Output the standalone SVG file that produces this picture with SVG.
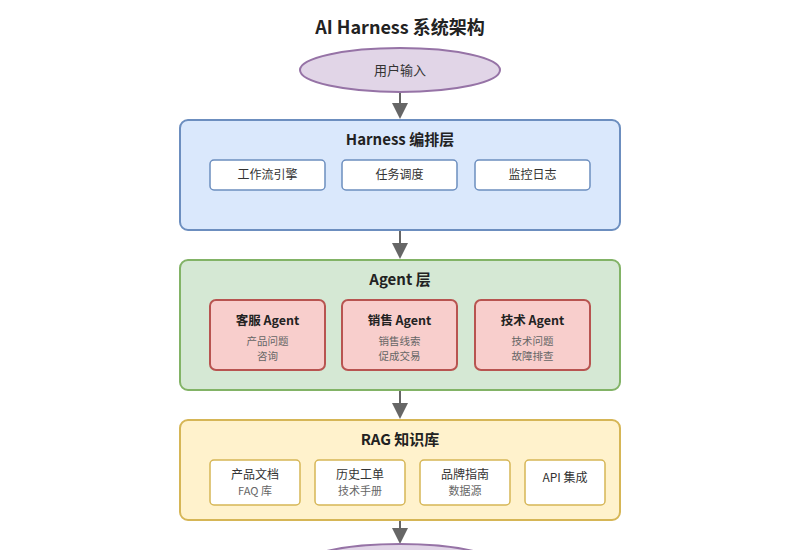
<svg xmlns="http://www.w3.org/2000/svg" width="800" height="550" viewBox="0 0 800 550">
<defs>
<marker id="arr" markerWidth="8" markerHeight="8" refX="7" refY="4" orient="auto" markerUnits="strokeWidth">
<path d="M0,0 L8,4 L0,8 Z" fill="#666"/>
</marker>
<style>
text{font-family:"Noto Sans CJK SC","Noto Sans",sans-serif;text-anchor:middle;fill:#333}
.title{font-size:18px;font-weight:bold;fill:#222}
.lt{font-size:15px;font-weight:bold;fill:#222}
.st{font-size:12px;fill:#333}
.at{font-size:12.5px;font-weight:bold;fill:#222}
.g{font-size:10.5px;fill:#666}
.g2{font-size:11px;fill:#666}
.sub{fill:#fff;stroke-width:1.5}
.conn{stroke:#666;stroke-width:2;fill:none;marker-end:url(#arr)}
</style>
</defs>
<rect width="800" height="550" fill="#fff"/>
<text class="title" x="400" y="34">AI Harness 系统架构</text>
<g id="connectors">
<line class="conn" x1="400" y1="92" x2="400" y2="117"/>
<line class="conn" x1="400" y1="230" x2="400" y2="257"/>
<line class="conn" x1="400" y1="390" x2="400" y2="417"/>
<line class="conn" x1="400" y1="520" x2="400" y2="542"/>
</g>
<g id="input">
<ellipse cx="400" cy="70" rx="100" ry="22" fill="#e1d5e7" stroke="#9673a6" stroke-width="2"/>
<text class="st" x="400" y="75" style="font-size:13px">用户输入</text>
</g>
<g id="harness">
<rect x="180" y="120" width="440" height="110" rx="8" fill="#dae8fc" stroke="#6c8ebf" stroke-width="2"/>
<text class="lt" x="400" y="145">Harness 编排层</text>
</g>
<g id="workflow"><rect class="sub" x="210" y="160" width="115" height="30" rx="4" stroke="#6c8ebf"/><text class="st" x="267.5" y="179">工作流引擎</text></g>
<g id="schedule"><rect class="sub" x="342" y="160" width="115" height="30" rx="4" stroke="#6c8ebf"/><text class="st" x="399.5" y="179">任务调度</text></g>
<g id="monitor"><rect class="sub" x="475" y="160" width="115" height="30" rx="4" stroke="#6c8ebf"/><text class="st" x="532.5" y="179">监控日志</text></g>
<g id="agentlayer">
<rect x="180" y="260" width="440" height="130" rx="8" fill="#d5e8d4" stroke="#82b366" stroke-width="2"/>
<text class="lt" x="400" y="285">Agent 层</text>
</g>
<g id="cs"><rect x="210" y="300" width="115" height="70" rx="6" fill="#f8cecc" stroke="#b85450" stroke-width="2"/>
<text class="at" x="267.5" y="325">客服 Agent</text><text class="g" x="267.5" y="345">产品问题</text><text class="g" x="267.5" y="360">咨询</text></g>
<g id="sales"><rect x="342" y="300" width="115" height="70" rx="6" fill="#f8cecc" stroke="#b85450" stroke-width="2"/>
<text class="at" x="399.5" y="325">销售 Agent</text><text class="g" x="399.5" y="345">销售线索</text><text class="g" x="399.5" y="360">促成交易</text></g>
<g id="tech"><rect x="475" y="300" width="115" height="70" rx="6" fill="#f8cecc" stroke="#b85450" stroke-width="2"/>
<text class="at" x="532.5" y="325">技术 Agent</text><text class="g" x="532.5" y="345">技术问题</text><text class="g" x="532.5" y="360">故障排查</text></g>
<g id="rag">
<rect x="180" y="420" width="440" height="100" rx="8" fill="#fff2cc" stroke="#d6b656" stroke-width="2"/>
<text class="lt" x="400" y="445">RAG 知识库</text>
</g>
<g id="docs"><rect class="sub" x="210" y="460" width="90" height="45" rx="4" stroke="#d6b656"/><text class="st" x="255" y="479">产品文档</text><text class="g2" x="255" y="495">FAQ 库</text></g>
<g id="tickets"><rect class="sub" x="315" y="460" width="90" height="45" rx="4" stroke="#d6b656"/><text class="st" x="360" y="479">历史工单</text><text class="g2" x="360" y="495">技术手册</text></g>
<g id="brand"><rect class="sub" x="420" y="460" width="90" height="45" rx="4" stroke="#d6b656"/><text class="st" x="465" y="479">品牌指南</text><text class="g2" x="465" y="495">数据源</text></g>
<g id="api"><rect class="sub" x="525" y="460" width="80" height="45" rx="4" stroke="#d6b656"/><text class="st" x="565" y="482">API 集成</text></g>
<g id="output">
<ellipse cx="400" cy="566" rx="100" ry="22" fill="#e1d5e7" stroke="#9673a6" stroke-width="2"/>
</g>
</svg>
